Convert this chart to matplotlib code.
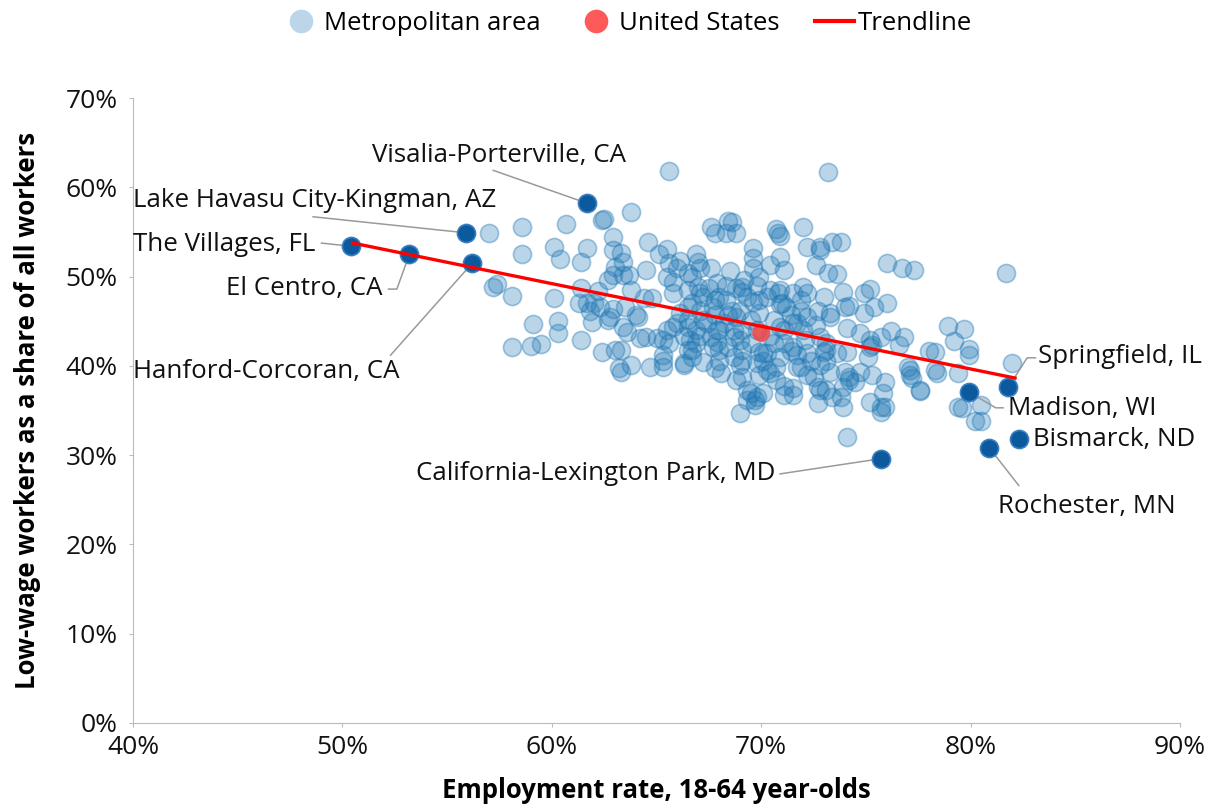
import matplotlib
matplotlib.use("Agg")
import matplotlib.pyplot as plt
from matplotlib.lines import Line2D
from matplotlib.ticker import FuncFormatter

plt.rcParams['font.family'] = ['Open Sans', 'DejaVu Sans']

# employment rate (%) and low-wage share (%) for metro areas
metro_x = [57.0, 58.6, 58.6, 57.4, 57.2, 58.1, 60.1, 60.7, 60.1, 60.4, 61.4, 61.7, 62.4, 62.5, 63.8, 62.9,
           65.6, 64.6, 65.5, 65.1, 62.9, 63.3, 63.4, 63.0, 64.5, 62.7, 62.9, 63.4, 63.7, 61.4, 62.2, 61.7,
           61.3, 62.0, 62.3, 61.9, 62.7, 62.9, 63.5, 63.8, 64.4, 64.8, 64.1, 63.4, 63.6, 64.2, 64.5, 65.0,
           59.1, 60.3, 60.3, 61.4, 58.1, 59.0, 59.5, 62.4, 63.0, 63.3, 63.2, 63.3, 63.8, 64.7, 65.3, 65.3,
           65.8, 65.6, 66.5, 66.3, 65.8, 65.8, 65.6, 66.1, 65.5, 66.5, 66.5, 66.7,
           73.2, 67.6, 67.8, 68.4, 68.6, 68.3, 68.8, 70.7, 70.8, 70.9, 72.0, 72.2, 72.8, 72.8, 73.4,
           66.9, 67.0, 66.0, 67.1, 67.6, 68.5, 69.6, 69.6, 69.6, 70.4, 70.9, 71.1, 72.6, 73.2, 73.6,
           73.9, 74.0, 73.0, 72.0, 72.2, 71.9, 71.5, 70.9, 70.4, 69.9, 69.2, 69.1, 68.8, 67.9, 67.5,
           67.0, 66.5, 67.2, 68.0, 69.3, 69.6, 70.3, 70.8, 71.0, 71.9, 72.7, 73.3, 68.6, 67.7, 66.7,
           66.1, 69.0, 69.9,
           76.0, 76.7, 77.3, 81.7, 73.8, 74.9, 75.2, 74.2, 74.9, 75.4, 76.0,
           78.9, 79.7, 79.2, 79.9, 79.9, 78.0, 78.3, 78.3, 78.4, 79.4, 82.0, 77.0, 77.1, 77.2, 77.6,
           76.2, 76.8, 76.6, 75.7, 75.2, 75.3, 74.7, 74.1, 75.1, 74.1, 75.3, 75.9, 75.8, 75.9, 75.2,
           75.7, 73.9, 74.1, 74.0, 74.2, 74.5, 74.7, 73.9, 79.4, 79.6, 80.5, 80.2, 80.5,
           65.3, 66.3, 66.7, 67.2, 67.8, 68.1, 68.8, 69.1, 69.0, 69.3, 69.7, 70.1, 69.7, 69.5, 70.4,
           70.7, 70.1, 69.9, 70.3, 70.9, 71.1, 71.5, 71.5, 71.9, 72.2, 72.5, 72.7, 72.7, 73.1, 73.0,
           73.1, 72.2, 71.7, 71.5, 71.1, 70.6, 73.6, 73.4, 66.0, 66.3, 66.9, 67.6, 68.0, 67.9, 68.4,
           68.7, 69.1, 69.1, 69.5, 68.7, 69.1, 69.5, 68.8, 68.4, 70.6, 70.9, 71.5, 72.0, 72.2, 72.8,
           73.1, 67.2, 66.9, 66.5, 65.3, 69.8, 70.3, 62.8, 64.0, 61.8, 65.5,
           67.1, 67.9, 69.1, 71.2, 71.7, 73.3, 73.1, 74.2, 75.2, 70.1, 71.7, 68.0, 67.7, 67.4, 68.2,
           68.7, 66.5, 66.7, 69.3, 69.8, 72.8, 73.8, 75.7, 77.6, 77.1,
           68.3, 69.9, 67.8, 71.4, 72.1, 69.8, 69.0, 70.4, 71.1, 72.6, 67.1, 70.9, 68.0, 67.1, 66.6,
           69.0, 71.4, 72.4, 70.7, 71.1, 73.3, 72.8, 69.9, 67.8, 68.3, 69.8]
metro_y = [54.9, 55.5, 52.5, 49.2, 48.8, 47.8, 47.6, 55.9, 53.3, 52.0, 51.6, 53.2, 56.3, 56.5, 57.2, 54.4,
           61.8, 53.9, 53.1, 52.5, 53.0, 52.6, 51.6, 51.1, 50.7, 49.6, 50.2, 50.2, 50.2, 48.7, 48.4, 47.0,
           47.0, 47.0, 46.6, 44.9, 45.1, 46.4, 46.6, 48.5, 47.6, 47.6, 45.5, 44.3, 43.8, 43.1, 43.2, 43.1,
           44.7, 45.0, 43.7, 42.9, 42.1, 42.2, 42.4, 41.5, 41.8, 41.8, 39.8, 39.3, 40.1, 39.9, 39.9, 41.2,
           44.3, 42.6, 41.8, 40.1, 49.4, 48.2, 51.5, 51.8, 49.9, 50.4, 46.6, 49.9,
           61.7, 55.5, 54.9, 56.2, 56.1, 54.9, 54.9, 55.3, 54.9, 54.5, 55.6, 53.3, 53.3, 53.0, 53.9,
           52.5, 51.6, 51.0, 51.0, 51.0, 50.6, 53.2, 52.1, 51.0, 51.3, 52.2, 50.7, 51.3, 50.4, 50.3,
           48.3, 46.6, 47.7, 48.8, 48.2, 47.4, 48.2, 48.5, 48.5, 49.9, 49.6, 48.8, 48.7, 49.3, 48.7,
           48.8, 48.5, 47.7, 47.7, 47.7, 47.1, 47.7, 48.2, 47.0, 46.2, 46.2, 45.9, 46.2, 46.6, 47.0,
           45.9, 46.2, 45.9,
           51.5, 51.0, 50.7, 50.4, 53.9, 48.2, 48.6, 46.7, 45.9, 46.6, 47.0,
           44.5, 44.1, 42.8, 41.9, 41.2, 41.7, 41.5, 39.5, 39.2, 39.2, 40.3, 39.9, 39.0, 38.6, 37.2,
           43.9, 43.2, 42.3, 43.2, 42.9, 42.3, 43.7, 44.2, 41.0, 41.5, 39.0, 38.2, 37.0, 35.4, 35.9,
           34.8, 35.4, 32.0, 39.3, 38.7, 38.2, 39.3, 37.6, 35.4, 35.3, 35.6, 33.8, 33.8,
           40.6, 40.3, 41.0, 40.4, 39.8, 39.2, 38.4, 38.7, 34.7, 36.2, 36.2, 37.0, 35.6, 37.0, 39.2,
           39.9, 40.6, 41.5, 41.4, 41.0, 37.8, 37.5, 36.7, 39.9, 39.0, 38.7, 37.6, 35.8, 37.3, 41.5,
           40.6, 41.4, 41.2, 42.1, 42.6, 42.6, 41.4, 36.5, 44.8, 43.4, 42.6, 43.2, 44.0, 42.7, 42.1,
           41.0, 40.6, 41.8, 42.6, 43.2, 44.0, 45.1, 45.5, 45.7, 45.1, 44.3, 44.8, 44.0, 45.5, 43.2,
           42.6, 45.1, 44.0, 45.1, 42.9, 40.3, 39.5, 45.5, 45.7, 46.2, 44.0,
           48.2, 44.0, 48.3, 46.6, 44.8, 45.5, 41.8, 38.4, 42.1, 41.4, 39.9, 41.8, 42.1, 44.8, 44.8,
           44.0, 44.3, 41.8, 37.3, 36.5, 37.3, 36.5, 35.4, 37.3, 39.5,
           47.4, 47.4, 45.7, 45.7, 42.9, 44.0, 42.9, 43.4, 44.0, 44.6, 46.2, 46.9, 40.6, 43.4, 42.9,
           40.1, 41.7, 40.6, 38.4, 36.7, 39.3, 40.1, 39.0, 47.4, 49.0, 49.0]

# labelled metro areas
named = ["Visalia-Porterville, CA", "Lake Havasu City-Kingman, AZ", "The Villages, FL",
         "El Centro, CA", "Hanford-Corcoran, CA", "California-Lexington Park, MD",
         "Springfield, IL", "Madison, WI", "Bismarck, ND", "Rochester, MN"]
named_x = [61.7, 55.9, 50.4, 53.2, 56.2, 75.7, 81.8, 79.9, 82.3, 80.9]
named_y = [58.2, 54.9, 53.4, 52.5, 51.5, 29.6, 37.6, 37.1, 31.8, 30.8]

us_x = [70.0]
us_y = [43.7]

trend_x = [50.4, 82.2]
trend_y = [53.8, 38.6]

# label text placement and leader line bend points
lab_pos = [(51.4, 63.6, 'left'), (40.0, 58.5, 'left'), (40.0, 53.6, 'left'), (51.9, 48.7, 'right'),
           (40.0, 39.4, 'left'), (70.7, 27.9, 'right'), (83.2, 41.0, 'left'), (81.8, 35.2, 'left'),
           (83.0, 31.7, 'left'), (81.3, 24.2, 'left')]
leaders = [[(57.2, 61.9)], [(48.6, 56.7)], [(49.0, 53.75)], [(52.2, 48.6), (52.6, 48.6)],
           [(52.3, 41.2)], [(70.9, 27.9)], [(83.1, 40.9), (82.7, 40.9)], [(81.55, 35.3), (81.2, 35.3)],
           [], [(82.3, 26.6)]]

fig = plt.figure(figsize=(12.17, 8.08), dpi=100)
ax = fig.add_axes([0.1093, 0.1052, 0.8603, 0.7735])

ax.scatter(metro_x, metro_y, s=170, facecolor=(0.122, 0.467, 0.706, 0.3),
           edgecolor=(0.122, 0.467, 0.706, 0.4), linewidth=1.2, zorder=2)
ax.scatter(named_x, named_y, s=170, facecolor='#0b5a9e', edgecolor='#3c7fc0', linewidth=1.2, zorder=4)
ax.scatter(us_x, us_y, s=170, facecolor=(0.95, 0.27, 0.27, 0.85), edgecolor='none', zorder=3)
ax.plot(trend_x, trend_y, color='#ff0000', lw=2.4, zorder=5, solid_capstyle='butt')

for i, name in enumerate(named):
    pts = leaders[i] + [(named_x[i], named_y[i])]
    if len(pts) > 1:
        ax.plot([p[0] for p in pts], [p[1] for p in pts], color='#9a9a9a', lw=1.1, zorder=3.5)
    tx, ty, ha = lab_pos[i]
    ax.text(tx, ty, name, ha=ha, va='center', fontsize=18.6, color='#111111', zorder=6)

ax.set_xlim(40, 90)
ax.set_ylim(0, 70)
ax.set_xticks(range(40, 91, 10))
ax.set_yticks(range(0, 71, 10))
pct = FuncFormatter(lambda v, p: f"{v:.0f}%")
ax.xaxis.set_major_formatter(pct)
ax.yaxis.set_major_formatter(pct)
ax.tick_params(labelsize=19, colors='#111111', length=3, width=0.8)
ax.tick_params(axis='both', color='#bbbbbb')
ax.tick_params(axis='x', pad=6)
ax.tick_params(axis='y', pad=8)
for s in ['top', 'right']:
    ax.spines[s].set_visible(False)
ax.spines['left'].set_color('#bbbbbb')
ax.spines['bottom'].set_color('#bbbbbb')

ax.set_xlabel('Employment rate, 18-64 year-olds', fontsize=18.5, fontweight='bold', labelpad=12)
ax.set_ylabel('Low-wage workers as a share of all workers', fontsize=18.5, fontweight='bold', labelpad=18)

handles = [Line2D([], [], marker='o', ls='none', markersize=16, markerfacecolor='#bcd5e8', markeredgecolor='#bcd5e8'),
           Line2D([], [], marker='o', ls='none', markersize=16, markerfacecolor='#ff5a5a', markeredgecolor='#ff5a5a'),
           Line2D([], [], color='#ff0000', lw=3)]
fig.legend(handles, ['Metropolitan area', 'United States', 'Trendline'], loc='upper center',
           bbox_to_anchor=(0.515, 1.015), ncol=3, frameon=False, fontsize=18.5,
           handlelength=1.5, handletextpad=0.15, columnspacing=1.4)

fig.savefig('out.png', dpi=100)
